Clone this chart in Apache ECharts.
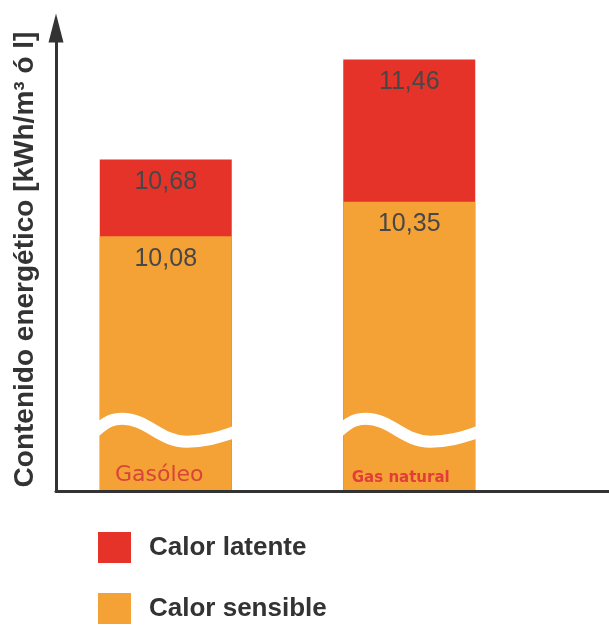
<!DOCTYPE html>
<html>
<head>
<meta charset="utf-8">
<script src="https://cdn.jsdelivr.net/npm/echarts@6/dist/echarts.min.js"></script>
<style>
  html, body { margin: 0; padding: 0; background: #fff; }
  #chart { width: 609px; height: 628px; }
</style>
</head>
<body>
<div id="chart"></div>
<script>
// Energy content per fuel: sensible heat and total (sensible + latent)
const categories = ['Gasóleo', 'Gas natural'];
const sensibleHeat = [10.08, 10.35];
const totalHeat = [10.68, 11.46];
const seriesNames = ['Calor latente', 'Calor sensible'];
const axisTitle = 'Contenido energético [kWh/m³ ó l]';

// Value where the axis-break wave is drawn across each bar
const breakLevel = 8.57;

const RED = '#e5332a';
const ORANGE = '#f4a136';
const BAR_W = 132;

const fmt = v => v.toFixed(2).replace('.', ',');

const chart = echarts.init(document.getElementById('chart'), null, { renderer: 'canvas' });

function renderWave(params, api) {
  const c = api.coord([api.value(0), api.value(1)]);
  const w = BAR_W;
  const x0 = c[0] - w / 2;
  const cy = c[1];
  const d = [
    'M', x0 - 4, cy + 1,
    'C', x0 + 0.06 * w, cy - 9, x0 + 0.10 * w, cy - 11, x0 + 0.17 * w, cy - 11,
    'C', x0 + 0.36 * w, cy - 11, x0 + 0.46 * w, cy + 12, x0 + 0.66 * w, cy + 12,
    'C', x0 + 0.82 * w, cy + 12, x0 + 0.93 * w, cy + 6, x0 + w + 4, cy + 2
  ].join(' ');
  return {
    type: 'path',
    shape: { pathData: d },
    style: { stroke: '#ffffff', lineWidth: 12, fill: null }
  };
}

// One legend block per series, stacked vertically
const legendText = {
  fontFamily: 'Liberation Sans',
  fontSize: 26,
  fontWeight: 'bold',
  color: '#333333',
  padding: [0, 0, 0, 13]
};
const legends = seriesNames.map((name, i) => ({
  data: [name],
  left: 98,
  top: 532 + i * 61,
  padding: 0,
  itemWidth: 33,
  itemHeight: 31,
  icon: 'rect',
  textStyle: legendText
}));

const labelStyle = {
  show: true,
  position: 'insideTop',
  distance: 10,
  formatter: p => fmt(p.value),
  fontFamily: 'Liberation Sans',
  fontSize: 25,
  color: '#474747'
};

const option = {
  backgroundColor: '#ffffff',
  animation: false,
  grid: [
    { left: 44, right: 78, top: 16, bottom: 138, outerBoundsMode: 'none' },
    { left: 56, right: 0, top: 28, bottom: 137, outerBoundsMode: 'none' }
  ],
  legend: legends,
  xAxis: [
    {
      type: 'category',
      gridIndex: 0,
      data: categories,
      z: 10,
      axisLine: { show: false },
      axisTick: { show: false },
      axisLabel: {
        inside: true,
        margin: 4,
        formatter: (v, i) => i === 0 ? '{a|' + v + '}' : '{b|' + v + '}',
        rich: {
          a: { fontFamily: 'DejaVu Sans', fontSize: 22, color: '#d8443a', padding: [0, 13, 0, 0] },
          b: { fontFamily: 'DejaVu Sans', fontSize: 15, fontWeight: 'bold', color: '#e23d3a', padding: [0, 17, 0, 0] }
        }
      }
    },
    {
      type: 'value',
      gridIndex: 1,
      min: 0,
      max: 1,
      axisLine: { show: true, lineStyle: { color: '#333333', width: 3 } },
      axisTick: { show: false },
      axisLabel: { show: false },
      splitLine: { show: false }
    }
  ],
  yAxis: [
    {
      type: 'value',
      gridIndex: 0,
      min: 8.1,
      max: 11.8,
      show: false,
      splitLine: { show: false }
    },
    {
      type: 'value',
      gridIndex: 1,
      min: 0,
      max: 1,
      name: axisTitle,
      nameLocation: 'middle',
      nameRotate: 90,
      nameGap: 17,
      nameTextStyle: {
        fontFamily: 'Liberation Sans',
        fontSize: 28,
        fontWeight: 'bold',
        color: '#333333'
      },
      axisLine: {
        show: true,
        symbol: ['none', 'triangle'],
        symbolSize: [15, 29],
        lineStyle: { color: '#333333', width: 3 }
      },
      axisTick: { show: false },
      axisLabel: { show: false },
      splitLine: { show: false }
    }
  ],
  series: [
    {
      name: seriesNames[0],
      type: 'bar',
      xAxisIndex: 0,
      yAxisIndex: 0,
      data: totalHeat,
      barWidth: BAR_W,
      barGap: '-100%',
      itemStyle: { color: RED },
      label: labelStyle
    },
    {
      name: seriesNames[1],
      type: 'bar',
      xAxisIndex: 0,
      yAxisIndex: 0,
      data: sensibleHeat,
      barWidth: BAR_W,
      barGap: '-100%',
      itemStyle: { color: ORANGE },
      label: labelStyle
    },
    {
      type: 'custom',
      xAxisIndex: 0,
      yAxisIndex: 0,
      z: 5,
      silent: true,
      data: categories.map((c, i) => [i, breakLevel]),
      renderItem: renderWave
    }
  ]
};

chart.setOption(option);
</script>
</body>
</html>
